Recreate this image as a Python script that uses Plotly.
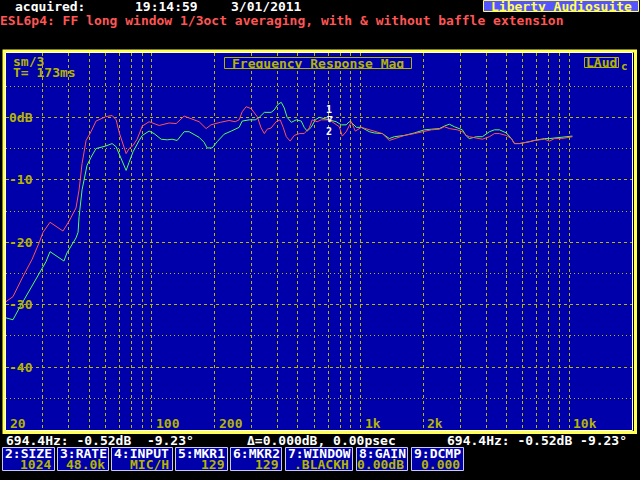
import math
import plotly.graph_objects as go

# ---------------- data ----------------
red_freq = [20, 21.6, 24.1, 26.7, 28.8, 30.1, 32.5, 37.5, 40, 43.3,
            44.8, 46.3, 48.4, 51.1, 54, 60, 64.5, 67.4, 70, 72.8,
            75.3, 77.8, 81.3, 85, 90, 97, 108.4, 121, 130.7, 142.8,
            154.3, 168.5, 182, 192, 212.6, 234.6, 250.8, 262, 271, 283,
            299, 320, 334, 346, 357, 373, 394, 412, 426, 441,
            460, 481, 509, 537, 568, 587, 620, 648, 708, 748,
            791, 818, 854, 903, 944, 1009, 1077, 1164, 1272, 1374,
            1452, 1621, 1811, 2022, 2185, 2386, 2522, 2665, 2911, 3076,
            3216, 3323, 3592, 3837, 4147, 4381, 4630, 5003, 5287, 5465,
            5773, 6101, 6447, 6815, 7609, 8044, 8499, 9182, 10029, 10364]
red_db = [-29.5, -28.7, -25.5, -22.7, -20.1, -18.4, -16.8, -18.2, -16.7, -14.5,
          -11.6, -7.4, -3.7, -2.3, -0.6, 0.1, 0.3, -0.4, -2.6, -4.2,
          -5.8, -5.0, -4.5, -3.5, -1.4, -0.7, -1.3, -0.9, -1.0, 0.2,
          -0.2, -0.7, -1.8, -1.2, -0.8, -0.5, -0.7, -0.4, 0.9, 1.7,
          1.4, 0.1, -1.7, -2.6, -1.9, -1.7, -0.7, -0.4, -1.6, -3.1,
          -3.8, -2.9, -2.6, -2.6, -1.7, -0.4, -0.7, -0.4, -0.4, -1.0,
          -1.5, -3.0, -2.3, -0.7, -2.2, -1.6, -1.9, -2.3, -2.6, -3.7,
          -3.4, -2.9, -2.6, -2.2, -2.0, -1.9, -1.5, -1.8, -2.0, -2.3,
          -2.9, -3.1, -3.3, -3.5, -3.1, -2.6, -2.6, -2.9, -3.4, -4.2,
          -4.2, -4.1, -3.9, -3.7, -3.5, -3.8, -3.4, -3.4, -3.1, -3.1]

green_freq = [20, 21.6, 23.1, 24.9, 26.7, 28.8, 31.1, 32.5, 35.1, 37.9,
              39.2, 41, 43.3, 44.3, 44.8, 46.3, 47.8, 48.9, 51.1, 54,
              60, 64.5, 67.4, 70, 72.8, 75.3, 77.8, 81.3, 86.9, 90,
              97, 102.5, 110.8, 118.4, 125, 132.2, 142.8, 150.9, 168.5, 178,
              184, 194.5, 205.6, 222, 240, 262, 271, 293, 313, 327,
              346, 373, 386, 403, 417, 431, 445, 466, 492, 520,
              537, 555, 580, 607, 634, 670, 708, 765, 809, 854,
              883, 903, 955, 1009, 1102, 1164, 1272, 1374, 1452, 1621,
              1811, 2022, 2185, 2386, 2522, 2665, 2816, 2976, 3076, 3216,
              3323, 3592, 3837, 4147, 4381, 4630, 5003, 5287, 5465, 5773,
              6101, 6447, 6815, 7609, 8044, 8499, 9182, 10029, 10364]
green_db = [-32.1, -32.4, -30.6, -28.7, -26.8, -25.0, -23.1, -21.5, -22.3, -23.0,
            -21.7, -20.7, -19.3, -18.4, -15.9, -11.6, -9.0, -7.7, -6.4, -5.0,
            -4.6, -4.2, -4.7, -6.1, -7.4, -8.5, -7.2, -5.5, -3.7, -2.9,
            -2.2, -2.6, -3.5, -3.6, -3.5, -3.7, -2.3, -2.3, -3.2, -4.0,
            -4.9, -4.9, -3.9, -2.7, -2.2, -1.6, -0.6, -0.4, -0.4, 0.0,
            0.8, 0.8, 1.2, 2.1, 2.4, 1.5, 0.0, -0.8, -0.4, -0.6,
            -1.6, -2.2, -1.6, -0.4, 0.0, -0.2, -0.4, -0.7, -1.2, -1.2,
            -0.7, -0.8, -1.6, -1.6, -2.3, -2.5, -2.6, -3.4, -3.1, -2.9,
            -2.5, -2.0, -1.9, -1.8, -1.4, -1.1, -1.5, -1.8, -2.0, -3.0,
            -3.4, -3.1, -3.1, -2.3, -2.0, -2.0, -2.5, -3.4, -4.2, -4.2,
            -4.1, -3.9, -3.7, -3.4, -3.4, -3.3, -3.2, -3.0, -3.0]

grid_freqs = [30, 40, 50, 60, 70, 80, 90,
              100, 200, 300, 400, 500, 600, 700, 800, 900,
              1000, 2000, 3000, 4000, 5000, 6000, 7000, 8000, 9000, 10000]
x_tick_vals = [20, 100, 200, 1000, 2000, 10000]
x_tick_text = ["20", "100", "200", "1k", "2k", "10k"]
y_major = [-40, -30, -20, -10, 0]
y_minor = [-45, -35, -25, -15, -5, 5]
y_tick_vals = [0, -10, -20, -30, -40]
y_tick_text = ["0dB", "-10", "-20", "-30", "-40"]

buttons_top = ["2:SIZE", "3:RATE", "4:INPUT", "5:MKR1", "6:MKR2", "7:WINDOW", "8:GAIN", "9:DCMP"]
buttons_val = ["1024", "48.0k", "MIC/H", "129", "129", ".BLACKH", "0.00dB", "0.000"]

# ---------------- style ----------------
W, H = 640, 480
L, R, T, B = 6, 632, 53, 430
BLUE = "#0000AA"
GRID = "#B8B800"
OLIVE = "#B4B400"
YEL = "#FFFF55"
RED = "#FF5555"
GREEN = "#55FF55"
FONT = "DejaVu Sans Mono"


def px(x):
    return (x - L) / (R - L)


def py(y):
    return (B - y) / (B - T)


fig = go.Figure()
fig.add_trace(go.Scatter(x=green_freq, y=green_db, mode="lines",
                         line=dict(color=GREEN, width=1), hoverinfo="skip"))
fig.add_trace(go.Scatter(x=red_freq, y=red_db, mode="lines",
                         line=dict(color=RED, width=1), hoverinfo="skip"))

shapes = []
annotations = []


def rect(x0, y0, x1, y1, line, fill=None, width=1):
    shapes.append(dict(type="rect", xref="paper", yref="paper",
                       x0=px(x0), x1=px(x1), y0=py(y1), y1=py(y0),
                       line=dict(color=line, width=width),
                       fillcolor=fill if fill else "rgba(0,0,0,0)", layer="above"))


def text(x, y, s, color, size=13, anchor="left", h=15):
    annotations.append(dict(xref="paper", yref="paper", x=px(x), y=py(y), text="<b>%s</b>" % s,
                            showarrow=False, xanchor=anchor, yanchor="middle",
                            height=h, borderpad=0,
                            font=dict(family=FONT, size=size, color=color)))


# frame
rect(4, 51, 635.5, 432.5, YEL, width=3)
rect(5.5, 52.5, 632.5, 430.5, "#FFFFCC", width=1)

# header
text(14, 6, "acquired:", "white", h=12)
text(134, 6, "19:14:59", "white", h=12)
text(230, 6, "3/01/2011", "white", h=12)
rect(483.5, 0.5, 638.5, 11.5, YEL, fill="#5555FF")
text(561, 6, "Liberty Audiosuite", YEL, anchor="center", h=12)
text(-1, 20.5, "ESL6p4: FF long window 1/3oct averaging, with &amp; without baffle extension", RED)

# in-plot labels
rect(224.5, 57.5, 411.5, 68.5, OLIVE, fill=BLUE)
text(318, 63, "Frequency Response Mag", OLIVE, anchor="center", h=11)
rect(584.5, 57.5, 618.5, 67.5, OLIVE, fill=BLUE)
text(601.5, 62.5, "LAud", OLIVE, anchor="center", h=10)
text(620, 65.5, "c", OLIVE, size=11, h=10)
text(12, 62, "sm/3", OLIVE, h=11)
text(12, 73, "T= 173ms", OLIVE, h=11)

for v, s in zip(y_tick_vals, y_tick_text):
    annotations.append(dict(xref="paper", yref="y", x=px(8), y=v, text="<b>%s</b>" % s,
                            showarrow=False, xanchor="left", yanchor="middle",
                            height=13, borderpad=0,
                            font=dict(family=FONT, size=13, color=OLIVE)))
for v, s in zip(x_tick_vals, x_tick_text):
    annotations.append(dict(xref="x", yref="paper", x=math.log10(v), y=py(423.5), text="<b>%s</b>" % s,
                            showarrow=False, xanchor="left", yanchor="middle", xshift=3,
                            height=13, borderpad=0,
                            font=dict(family=FONT, size=13, color=OLIVE)))

# marker 1/2
text(329, 109, "1", "white", size=10, anchor="center", h=10)
text(329, 119, "\u2207", "white", size=9, anchor="center", h=10)
text(329, 130.5, "2", "white", size=10, anchor="center", h=10)

# status line
text(5, 440.5, "694.4Hz: -0.52dB  -9.23\u00b0", "white", h=12)
text(246, 440.5, "\u0394=0.000dB, 0.00psec", "white", h=13)
text(446, 440.5, "694.4Hz: -0.52dB -9.23\u00b0", "white", h=12)

# buttons
btn_x = [(2, 55), (57, 109), (111, 173), (175, 228), (230, 282), (285, 353), (356, 408), (411, 464)]
for (x0, x1), top, val in zip(btn_x, buttons_top, buttons_val):
    rect(x0 + 0.5, 447.5, x1 - 0.5, 470.5, "#C8C8FF", fill=BLUE)
    text(x0 + 2, 453, top, "white", h=11)
    text(x1 - 3, 464.5, val, OLIVE, anchor="right", h=11)

fig.update_layout(
    width=W, height=H, autosize=False,
    margin=dict(l=L, r=W - R, t=T, b=H - B, pad=0),
    paper_bgcolor="black", plot_bgcolor=BLUE,
    showlegend=False,
    shapes=shapes, annotations=annotations,
    xaxis=dict(type="log", range=[math.log10(20), math.log10(20000)],
               tickvals=grid_freqs, showticklabels=False, ticks="",
               showgrid=True, gridcolor=GRID, gridwidth=1, griddash="3px,3px",
               zeroline=False, showline=False, fixedrange=True),
    yaxis=dict(range=[-50.05, 10.3], tickvals=y_major, showticklabels=False, ticks="",
               showgrid=True, gridcolor=GRID, gridwidth=1, griddash="3px,3px",
               minor=dict(tickvals=y_minor, showgrid=True, gridcolor=GRID, griddash="1px,3px", ticks=""),
               zeroline=False, showline=False, fixedrange=True),
)

fig.write_html("out.html", config={"displayModeBar": False},
               post_script="document.body.style.margin='0';document.body.style.overflow='hidden';")
